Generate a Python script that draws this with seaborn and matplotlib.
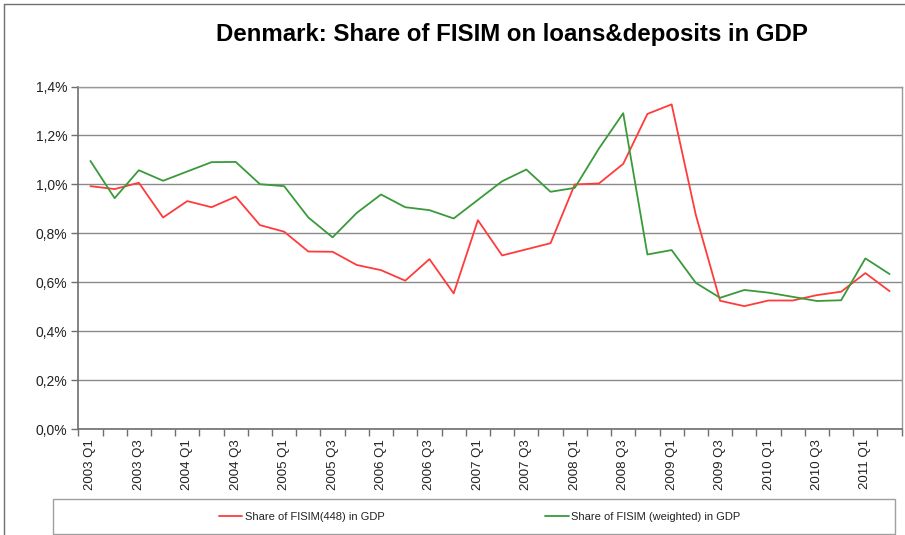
import numpy as np
import pandas as pd
import matplotlib
matplotlib.use("Agg")
import matplotlib.pyplot as plt
import seaborn as sns
from matplotlib.ticker import FixedLocator, FuncFormatter
from matplotlib.patches import Rectangle
from matplotlib.lines import Line2D

quarters = [f"{y} Q{q}" for y in range(2003, 2012) for q in range(1, 5)][:34]

fisim_448 = [0.993, 0.981, 1.007, 0.865, 0.932, 0.907, 0.950, 0.834, 0.807, 0.726,
             0.725, 0.671, 0.650, 0.607, 0.695, 0.555, 0.854, 0.710, 0.735, 0.760,
             1.000, 1.004, 1.084, 1.288, 1.327, 0.875, 0.525, 0.503, 0.526, 0.526,
             0.548, 0.562, 0.638, 0.564]
fisim_weighted = [1.096, 0.944, 1.058, 1.015, 1.053, 1.091, 1.092, 1.001, 0.993, 0.865,
                  0.784, 0.884, 0.959, 0.907, 0.895, 0.861, 0.937, 1.013, 1.061, 0.970,
                  0.986, 1.147, 1.291, 0.714, 0.732, 0.598, 0.537, 0.569, 0.558, 0.541,
                  0.524, 0.527, 0.698, 0.634]

series_names = ["Share of FISIM(448) in GDP", "Share of FISIM (weighted) in GDP"]
title = "Denmark: Share of FISIM on loans&deposits in GDP"
y_ticks = [0.0, 0.2, 0.4, 0.6, 0.8, 1.0, 1.2, 1.4]

df = pd.DataFrame({
    "idx": list(range(len(quarters))) * 2,
    "value": fisim_448 + fisim_weighted,
    "series": [series_names[0]] * len(quarters) + [series_names[1]] * len(quarters),
})

sns.set_theme(style="white")
plt.rcParams["font.family"] = ["Liberation Sans", "DejaVu Sans"]

W, H = 905, 535
fig = plt.figure(figsize=(W / 100, H / 100), dpi=100)
x0, x1, yb, yt = 78.3, 901.7, 429.3, 86.5
ax = fig.add_axes([x0 / W, 1 - yb / H, (x1 - x0) / W, (yb - yt) / H])

palette = {series_names[0]: "#FF3B3B", series_names[1]: "#3A9A3A"}
sns.lineplot(data=df, x="idx", y="value", hue="series", palette=palette,
             linewidth=1.3, ax=ax, legend=True)
handles, labels = ax.get_legend_handles_labels()
ax.get_legend().remove()

ax.set_xlim(-0.5, len(quarters) - 0.5)
ax.set_ylim(0, 1.4)
ax.set_xlabel("")
ax.set_ylabel("")

# y axis
ax.yaxis.set_major_locator(FixedLocator(y_ticks))
ax.yaxis.set_major_formatter(FuncFormatter(lambda v, p: f"{v:.1f}%".replace(".", ",")))
ax.tick_params(axis="y", which="major", length=5, width=1, color="#6e6e6e",
               labelsize=10, labelcolor="#222222", pad=3, direction="out", left=True)
ax.yaxis.grid(True, color="#8a8a8a", linewidth=1)
ax.set_axisbelow(True)

# x axis
ax.xaxis.set_major_locator(FixedLocator(list(range(0, len(quarters), 2))))
ax.set_xticklabels([quarters[i] for i in range(0, len(quarters), 2)], rotation=90)
ax.xaxis.set_minor_locator(FixedLocator(list(np.arange(-0.5, len(quarters), 1.0))))
ax.tick_params(axis="x", which="major", length=0, labelsize=9.5, labelcolor="#222222", pad=7)
ax.tick_params(axis="x", which="minor", length=5, width=1, color="#6e6e6e",
               direction="out", bottom=True)

for side in ["left", "bottom"]:
    ax.spines[side].set_color("#6e6e6e")
    ax.spines[side].set_linewidth(1.2)
for side in ["right", "top"]:
    ax.spines[side].set_color("#9a9a9a")
    ax.spines[side].set_linewidth(1)

fig.text(511.5 / W, 1 - 35 / H, title, ha="center", va="center",
         fontsize=17.3, fontweight="bold", color="black")

# legend box
lx0, lx1, ly0, ly1 = 53.3, 895, 499.3, 534
fig.add_artist(Rectangle((lx0 / W, 1 - ly1 / H), (lx1 - lx0) / W, (ly1 - ly0) / H,
                         transform=fig.transFigure, fill=False,
                         edgecolor="#a0a0a0", linewidth=1))
fig.legend(handles, labels, ncol=2, frameon=False, loc="center left",
           bbox_to_anchor=(219 / W, 1 - 516.5 / H), fontsize=8,
           handlelength=2.1, handletextpad=0.2, columnspacing=14.5,
           borderpad=0, borderaxespad=0, labelcolor="#222222")

# outer chart frame (top and left visible)
fig.add_artist(Line2D([4 / W, 1], [1 - 4 / H, 1 - 4 / H], transform=fig.transFigure,
                      color="#707070", linewidth=1))
fig.add_artist(Line2D([4 / W, 4 / W], [0, 1 - 4 / H], transform=fig.transFigure,
                      color="#707070", linewidth=1))

fig.savefig("out.png", dpi=100)
